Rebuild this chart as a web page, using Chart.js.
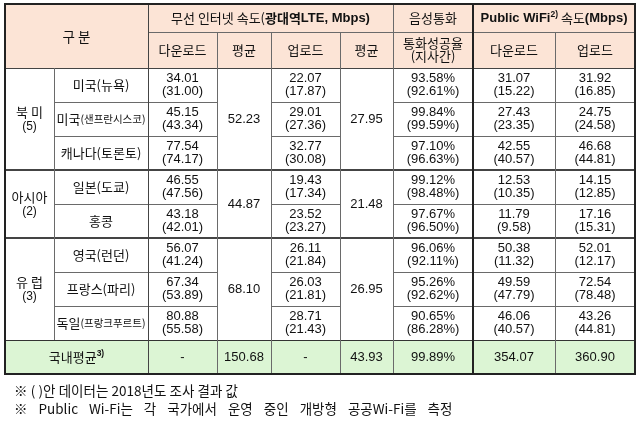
<!DOCTYPE html>
<html>
<head>
<meta charset="utf-8">
<script src="https://cdn.jsdelivr.net/npm/chart.js@4.4.1/dist/chart.umd.min.js"></script>
<style>
html,body{margin:0;padding:0;background:#fff;}
</style>
</head>
<body>
<canvas id="tabla" width="640" height="423"></canvas>
<script>
// datos de la tabla
var regiones = ['북 미', '아시아', '유 럽'];
var regionNum = ['(5)', '(2)', '(3)'];
var regionFilas = [3, 2, 3];
var ciudades = ['미국(뉴욕)', '미국(샌프란시스코)', '캐나다(토론토)', '일본(도쿄)', '홍콩', '영국(런던)', '프랑스(파리)', '독일(프랑크푸르트)'];

var lteBajada = [34.01, 45.15, 77.54, 46.55, 43.18, 56.07, 67.34, 80.88];
var lteBajada18 = [31.00, 43.34, 74.17, 47.56, 42.01, 41.24, 53.89, 55.58];
var lteBajadaProm = [52.23, 44.87, 68.10];
var lteSubida = [22.07, 29.01, 32.77, 19.43, 23.52, 26.11, 26.03, 28.71];
var lteSubida18 = [17.87, 27.36, 30.08, 17.34, 23.27, 21.84, 21.81, 21.43];
var lteSubidaProm = [27.95, 21.48, 26.95];
var llamada = [93.58, 99.84, 97.10, 99.12, 97.67, 96.06, 95.26, 90.65];
var llamada18 = [92.61, 99.59, 96.63, 98.48, 96.50, 92.11, 92.62, 86.28];
var wifiBajada = [31.07, 27.43, 42.55, 12.53, 11.79, 50.38, 49.59, 46.06];
var wifiBajada18 = [15.22, 23.35, 40.57, 10.35, 9.58, 11.32, 47.79, 40.57];
var wifiSubida = [31.92, 24.75, 46.68, 14.15, 17.16, 52.01, 72.54, 43.26];
var wifiSubida18 = [16.85, 24.58, 44.81, 12.85, 15.31, 12.17, 78.48, 44.81];
// 국내평균: LTE 다운로드, 평균, 업로드, 평균, 통화성공율, WiFi 다운로드, 업로드
var domestico = [null, 150.68, null, 43.93, 99.89, 354.07, 360.90];

var notas = ['※ ( )안 데이터는 2018년도 조사 결과 값',
             '※ Public Wi-Fi는 각 국가에서 운영 중인 개방형 공공Wi-Fi를 측정'];

// layout (ancho de columnas y alto de filas, en unidades de escala)
var anchos = [49, 94, 69, 54, 69, 53, 80, 82, 80];
var altos = [28, 36, 34, 34, 34, 34, 34, 34, 34, 34, 34];
var colBordes = [0];
anchos.forEach(function(w){ colBordes.push(colBordes[colBordes.length-1] + w); });
var filaBordes = [0];
altos.forEach(function(h){ filaBordes.push(filaBordes[filaBordes.length-1] + h); });

var KR = '"Noto Sans CJK KR", "Noto Sans", sans-serif';
var NUM = '"Liberation Sans", Arial, sans-serif';
var fondoCab = '#fce4d6';
var fondoTotal = '#dcf5d4';

function fuente(r){
    return (r.b ? 'bold ' : '') + (r.s || 13) + 'px ' + (r.f || KR);
}
// dibuja texto con varios tramos centrado en cx,cy
function tramos(ctx, runs, cx, cy){
    var total = 0;
    runs.forEach(function(r){ ctx.font = fuente(r); r.w = ctx.measureText(r.t).width; total += r.w; });
    var x = cx - total/2;
    ctx.textAlign = 'left';
    ctx.textBaseline = 'middle';
    runs.forEach(function(r){
        ctx.font = fuente(r);
        ctx.fillText(r.t, x, cy + (r.up || 0));
        x += r.w;
    });
}
function num(v){ return v.toFixed(2); }

var tablaPlugin = {
    id: 'tablaPlugin',
    afterDraw: function(chart){
        var ctx = chart.ctx;
        var sx = chart.scales.x, sy = chart.scales.y;
        var X = function(i){ return sx.getPixelForValue(colBordes[i]); };
        var Y = function(j){ return sy.getPixelForValue(filaBordes[j]); };
        var cxr = function(a, b){ return (X(a) + X(b))/2; };
        var cyr = function(a, b){ return (Y(a) + Y(b))/2; };
        ctx.save();

        // fondos
        ctx.fillStyle = fondoCab;
        ctx.fillRect(X(0), Y(0), X(9)-X(0), Y(2)-Y(0));
        ctx.fillStyle = fondoTotal;
        ctx.fillRect(X(0), Y(10), X(9)-X(0), Y(11)-Y(10));

        ctx.fillStyle = '#111';
        // cabecera
        tramos(ctx, [{t:'구 분', s:13.5}], cxr(0,2), cyr(0,2)+1);
        tramos(ctx, [{t:'무선 인터넷 속도(', s:13}, {t:'광대역', s:13, b:true}, {t:'LTE, Mbps)', s:13, b:true, f:NUM}], cxr(2,6), cyr(0,1));
        tramos(ctx, [{t:'음성통화', s:13}], cxr(6,7), cyr(0,1));
        tramos(ctx, [{t:'Public WiFi', s:13, b:true, f:NUM}, {t:'2)', s:8.5, b:true, f:NUM, up:-3}, {t:' 속도', s:13}, {t:'(Mbps)', s:13, b:true, f:NUM}], cxr(7,9), cyr(0,1));
        var sub = ['다운로드', '평균', '업로드', '평균', null, '다운로드', '업로드'];
        sub.forEach(function(t, k){
            if (t) tramos(ctx, [{t:t, s:13}], cxr(2+k, 3+k), cyr(1,2));
        });
        tramos(ctx, [{t:'통화성공율', s:13}], cxr(6,7), cyr(1,2)-6.5);
        tramos(ctx, [{t:'(지사간)', s:13}], cxr(6,7), cyr(1,2)+6.5);

        // regiones
        var ini = 0;
        regiones.forEach(function(r, g){
            var a = 2 + ini, b = 2 + ini + regionFilas[g];
            tramos(ctx, [{t:r, s:13}], cxr(0,1), cyr(a,b)-7);
            tramos(ctx, [{t:regionNum[g], s:12, f:NUM}], cxr(0,1), cyr(a,b)+8);
            tramos(ctx, [{t:num(lteBajadaProm[g]), s:13, f:NUM}], cxr(3,4), cyr(a,b));
            tramos(ctx, [{t:num(lteSubidaProm[g]), s:13, f:NUM}], cxr(5,6), cyr(a,b));
            ini += regionFilas[g];
        });

        // filas de ciudades
        ciudades.forEach(function(c, i){
            var a = 2 + i, b = 3 + i, cy = cyr(a, b);
            var p = c.indexOf('(');
            var largo = c.length > 8;
            if (p > 0) {
                tramos(ctx, [{t:c.slice(0,p), s:13}, {t:c.slice(p), s:largo ? 10.5 : 13}], cxr(1,2), cy);
            } else {
                tramos(ctx, [{t:c, s:13}], cxr(1,2), cy);
            }
            var pares = [[2, lteBajada, lteBajada18, ''], [4, lteSubida, lteSubida18, ''], [6, llamada, llamada18, '%'],
                         [7, wifiBajada, wifiBajada18, ''], [8, wifiSubida, wifiSubida18, '']];
            pares.forEach(function(q){
                tramos(ctx, [{t:num(q[1][i]) + q[3], s:13, f:NUM}], cxr(q[0], q[0]+1), cy-6.5);
                tramos(ctx, [{t:'(' + num(q[2][i]) + q[3] + ')', s:13, f:NUM}], cxr(q[0], q[0]+1), cy+6.5);
            });
        });

        // fila total
        tramos(ctx, [{t:'국내평균', s:13}, {t:'3)', s:8.5, b:true, f:NUM, up:-3}], cxr(0,2), cyr(10,11));
        domestico.forEach(function(v, k){
            var t = v === null ? '-' : (k === 4 ? num(v) + '%' : num(v));
            tramos(ctx, [{t:t, s:13, f:NUM}], cxr(2+k, 3+k), cyr(10,11));
        });

        // lineas
        function hl(y, x0, x1, w, col){
            ctx.beginPath(); ctx.lineWidth = w; ctx.strokeStyle = col;
            var yy = w % 2 ? Math.round(y) + 0.5 : Math.round(y);
            ctx.moveTo(x0, yy); ctx.lineTo(x1, yy); ctx.stroke();
        }
        function vl(x, y0, y1, w, col){
            ctx.beginPath(); ctx.lineWidth = w; ctx.strokeStyle = col;
            var xx = w % 2 ? Math.round(x) + 0.5 : Math.round(x);
            ctx.moveTo(xx, y0); ctx.lineTo(xx, y1); ctx.stroke();
        }
        var fino = '#6a6a6a', grueso = '#222';
        hl(Y(1), X(2), X(9), 1, fino);
        hl(Y(2), X(0), X(9), 1, '#444');
        [3, 4, 6, 8, 9].forEach(function(j){
            hl(Y(j), X(1), X(3), 1, fino);
            hl(Y(j), X(4), X(5), 1, fino);
            hl(Y(j), X(6), X(9), 1, fino);
        });
        hl(Y(5), X(0), X(9), 2, '#444');
        hl(Y(7), X(0), X(9), 2, '#444');
        hl(Y(10), X(0), X(9), 1, '#333');
        vl(X(1), Y(2), Y(10), 1, fino);
        vl(X(2), Y(0), Y(11), 1, '#444');
        [3, 4, 5, 8].forEach(function(i){ vl(X(i), Y(1), Y(11), 1, fino); });
        vl(X(6), Y(0), Y(11), 1, fino);
        vl(X(7), Y(0), Y(11), 2, grueso);
        // borde exterior
        ctx.lineWidth = 2; ctx.strokeStyle = grueso;
        ctx.strokeRect(Math.round(X(0)), Math.round(Y(0)), Math.round(X(9)-X(0)), Math.round(Y(11)-Y(0)));

        // notas al pie
        ctx.fillStyle = '#111';
        ctx.textAlign = 'left';
        ctx.textBaseline = 'middle';
        var base = Y(11);
        notas.forEach(function(n, k){
            var palabras = n.split(' ');
            var xx = X(0) + 9;
            ctx.font = '13.5px ' + KR;
            var esp = k === 0 ? 3.2 : 11;
            palabras.forEach(function(w){
                ctx.fillText(w, xx, base + 17 + k * 18);
                xx += ctx.measureText(w).width + esp;
            });
        });
        ctx.restore();
    }
};

var grafica = document.getElementById('tabla').getContext('2d');
var chart = new Chart(grafica, {
    type: 'scatter',
    data: { datasets: [{ data: [] }] },
    options: {
        responsive: false,
        animation: false,
        layout: { padding: { left: 5, right: 5, top: 4, bottom: 49 } },
        scales: {
            x: { type: 'linear', display: false, min: 0, max: colBordes[colBordes.length-1] },
            y: { type: 'linear', display: false, min: 0, max: filaBordes[filaBordes.length-1], reverse: true }
        },
        plugins: { legend: { display: false }, tooltip: { enabled: false } }
    },
    plugins: [tablaPlugin]
});
</script>
</body>
</html>
